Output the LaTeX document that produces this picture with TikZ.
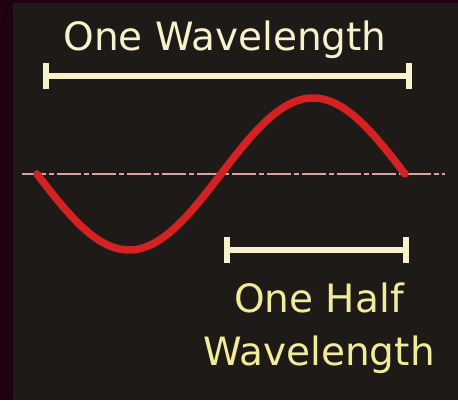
\documentclass[tikz,border=0pt]{standalone}
\usepackage{fontspec}
\setmainfont{DejaVu Sans}
\usepackage{tikz}
\usetikzlibrary{arrows.meta}

\definecolor{framered}{HTML}{1E0010}
\definecolor{boardbg}{HTML}{1E1A18}
\definecolor{wavered}{HTML}{D42222}
\definecolor{cream}{HTML}{F6F2CC}
\definecolor{paleyellow}{HTML}{F2EC9A}
\definecolor{axispink}{HTML}{E0A0A0}

\tikzset{
  span/.style={draw=cream, line width=6pt,
    {Bar[width=26pt,line width=6pt]}-{Bar[width=26pt,line width=6pt]}},
  label/.style={font=\fontsize{39}{44}\selectfont, inner sep=0pt}
}

\begin{document}
\begin{tikzpicture}[x=1pt, y=-1pt]
 \useasboundingbox (0,0) rectangle (458,400);
 \fill[framered] (0,0) rectangle (458,400);
 \fill[boardbg] (13,3) rectangle (458,400);

 % axis
 \coordinate (axisL) at (22,174);
 \coordinate (axisR) at (445,174);
 \draw[axispink, line width=1.6pt, dash pattern=on 24pt off 3pt on 5pt off 3pt] (axisL) -- (axisR);

 % wave
 \draw[wavered, line width=7.5pt, line cap=round, smooth]
   plot[domain=0:368, samples=80] ({37+\x}, {174+76*sin(\x*0.97826)});

 % one wavelength
 \node[label, text=cream] (full) at (225,40) {One Wavelength};
 \coordinate (fullL) at (43,76);
 \coordinate (fullR) at (412,76);
 \draw[span] (fullL) -- (fullR);

 % half wavelength
 \coordinate (halfL) at (224,250);
 \coordinate (halfR) at (409,250);
 \draw[span] (halfL) -- (halfR);
 \node[label, text=paleyellow] (half) at (319,298) {One Half};
 \node[label, text=paleyellow] (wave) at (319,355) {Wavelength};
\end{tikzpicture}
\end{document}
